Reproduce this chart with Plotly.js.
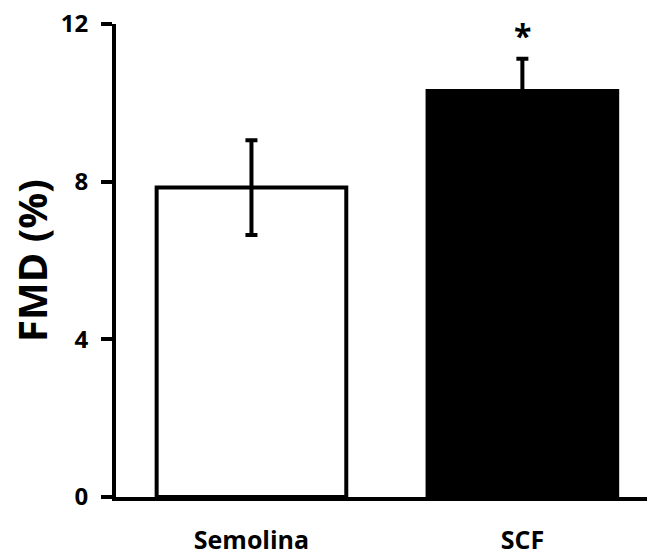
<!DOCTYPE html>
<html><head><meta charset="utf-8">
<script src="https://cdn.plot.ly/plotly-3.0.1.min.js"></script>
<style>html,body{margin:0;padding:0;background:#fff;}#chart{width:647px;height:560px;}</style>
</head><body><div id="chart"></div>
<script>
const categories = ["Semolina", "SCF"];
const fmdMean = [7.85, 10.3];
const fmdErr = [1.2, 0.82];
const barFill = ["#ffffff", "#000000"];
const yTicks = [0, 4, 8, 12];
const sigMark = {category: "SCF", y: 11.7, text: "*"};

const font = "Open Sans, Lato, sans-serif";
const trace = {
  type: "bar",
  x: categories,
  y: fmdMean,
  width: 0.7,
  marker: {color: barFill, line: {color: "#000", width: 4}},
  error_y: {type: "data", array: fmdErr, visible: true, color: "#000", thickness: 4, width: 6},
  cliponaxis: false,
  hoverinfo: "none"
};
const layout = {
  width: 647, height: 560,
  margin: {l: 116, r: 0, t: 24, b: 63},
  paper_bgcolor: "#fff", plot_bgcolor: "#fff",
  showlegend: false,
  xaxis: {
    type: "category",
    range: [-0.5, 1.46],
    showline: true, linecolor: "#000", linewidth: 4,
    ticks: "", showgrid: false, zeroline: false,
    ticklabelstandoff: 18,
    tickfont: {family: font, size: 25, color: "#000", weight: "bold"}
  },
  yaxis: {
    range: [0, 12],
    tickvals: yTicks, ticktext: yTicks.map(String),
    showline: true, linecolor: "#000", linewidth: 4,
    ticks: "outside", ticklen: 11, tickwidth: 4, tickcolor: "#000",
    showgrid: false, zeroline: false,
    ticklabelstandoff: 8,
    tickfont: {family: font, size: 24, color: "#000", weight: "bold"},
    title: {text: "FMD (%)", standoff: 2, font: {family: font, size: 40, color: "#000", weight: "bold"}}
  },
  annotations: [{
    x: sigMark.category, y: sigMark.y, xref: "x", yref: "y",
    text: sigMark.text, showarrow: false, yanchor: "middle",
    font: {family: font, size: 32, color: "#000", weight: "bold"}
  }]
};
Plotly.newPlot("chart", [trace], layout, {staticPlot: true, displayModeBar: false});
</script></body></html>
